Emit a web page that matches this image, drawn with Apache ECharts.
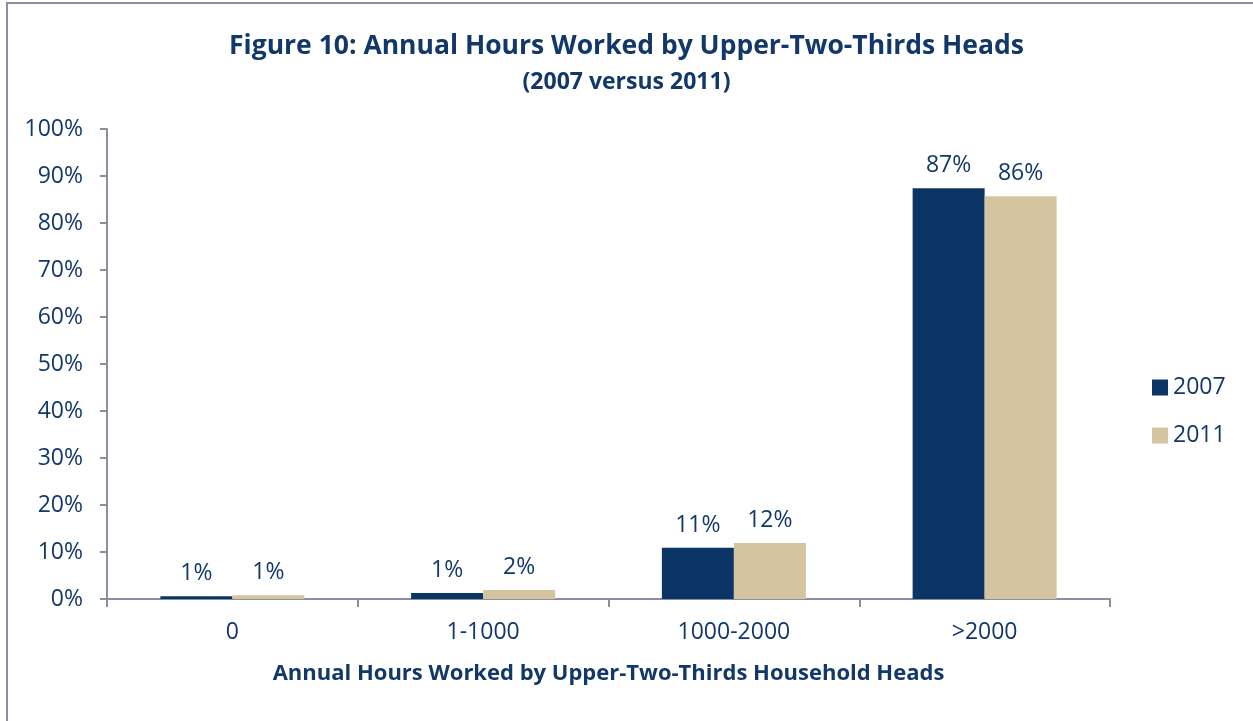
<!DOCTYPE html>
<html>
<head>
<meta charset="utf-8">
<script src="https://cdn.jsdelivr.net/npm/echarts@6/dist/echarts.min.js"></script>
<style>
  html, body { margin: 0; padding: 0; background: #fff; }
  .content-body { position: relative; width: 1253px; height: 721px; }
  .frame { position: absolute; left: 6px; top: 2px; width: 1260px; height: 730px;
           border-left: 2px solid #8a8fa0; border-top: 2px solid #8a8fa0; }
  #main { position: absolute; left: 0; top: 0; width: 1253px; height: 721px; }
</style>
</head>
<body>
<div class="content-body">
  <div class="frame"></div>
  <div id="main"></div>
</div>
<script>
var categories = ["0", "1-1000", "1000-2000", ">2000"];
var seriesNames = ["2007", "2011"];
var values2007 = [0.6, 1.3, 10.9, 87.4];
var values2011 = [0.8, 1.9, 11.9, 85.7];
var yTicks = [0, 10, 20, 30, 40, 50, 60, 70, 80, 90, 100];

var textColor = "#12386a";
var axisColor = "#8a8fa0";
var font = "'Open Sans', sans-serif";

var myChart = echarts.init(document.getElementById("main"));

function barLabel() {
  return {
    show: true,
    position: "top",
    distance: 11,
    color: textColor,
    fontFamily: font,
    fontSize: 23,
    formatter: function (p) { return Math.round(p.value) + "%"; }
  };
}

var option = {
  animation: false,
  title: {
    text: "Figure 10: Annual Hours Worked by Upper-Two-Thirds Heads",
    subtext: "(2007 versus 2011)",
    left: "center",
    top: 28,
    itemGap: 11,
    textStyle: { color: textColor, fontFamily: font, fontWeight: "bold", fontSize: 26.5 },
    subtextStyle: { color: textColor, fontFamily: font, fontWeight: "bold", fontSize: 23 }
  },
  legend: {
    orient: "vertical",
    left: 1147,
    top: 371,
    itemWidth: 16,
    itemHeight: 16,
    itemGap: 25,
    icon: "rect",
    textStyle: { color: textColor, fontFamily: font, fontSize: 23 },
    data: seriesNames
  },
  grid: { left: 107, right: 143, top: 129, bottom: 122 },
  xAxis: {
    type: "category",
    data: categories,
    name: "Annual Hours Worked by Upper-Two-Thirds Household Heads",
    nameLocation: "middle",
    nameGap: 64,
    nameTextStyle: { color: textColor, fontFamily: font, fontWeight: "bold", fontSize: 22 },
    axisLine: { lineStyle: { color: axisColor, width: 2 } },
    axisTick: { show: true, length: 8, lineStyle: { color: axisColor, width: 2 } },
    axisLabel: { color: textColor, fontFamily: font, fontSize: 23, margin: 22 }
  },
  yAxis: {
    type: "value",
    min: yTicks[0],
    max: yTicks[yTicks.length - 1],
    interval: 10,
    axisLine: { show: true, lineStyle: { color: axisColor, width: 2 } },
    axisTick: { show: true, length: 7, lineStyle: { color: axisColor, width: 2 } },
    splitLine: { show: false },
    axisLabel: { color: textColor, fontFamily: font, fontSize: 23, margin: 24,
                 formatter: "{value}%" }
  },
  series: [
    {
      name: seriesNames[0],
      type: "bar",
      data: values2007,
      barWidth: 72,
      barGap: "0%",
      itemStyle: { color: "#0a3564" },
      label: barLabel()
    },
    {
      name: seriesNames[1],
      type: "bar",
      data: values2011,
      barWidth: 72,
      barGap: "0%",
      itemStyle: { color: "#d5c4a0" },
      label: barLabel()
    }
  ]
};

myChart.setOption(option, true);
</script>
</body>
</html>
